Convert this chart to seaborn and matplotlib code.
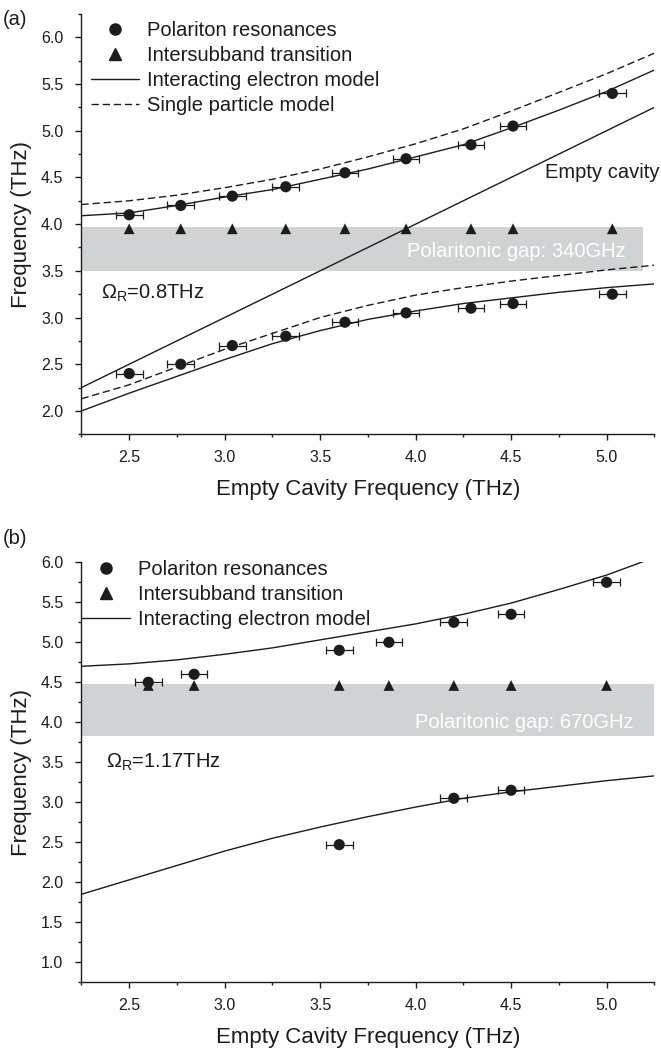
import matplotlib
matplotlib.use("Agg")
import matplotlib.pyplot as plt
import seaborn as sns
from matplotlib.lines import Line2D
from matplotlib.ticker import MultipleLocator

# ---- data (THz) ----
# panel (a)
a_cavity = [2.50, 2.77, 3.04, 3.32, 3.63, 3.95, 4.29, 4.51, 5.03]
a_upper = [4.10, 4.20, 4.30, 4.40, 4.55, 4.70, 4.85, 5.05, 5.40]
a_lower = [2.40, 2.50, 2.70, 2.80, 2.95, 3.05, 3.10, 3.15, 3.25]
a_isb = [3.95, 3.95, 3.95, 3.95, 3.95, 3.95, 3.95, 3.95, 3.95]

# panel (b)
b_cavity = [2.60, 2.84, 3.60, 3.86, 4.20, 4.50, 5.00]
b_upper = [4.50, 4.60, 4.90, 5.00, 5.25, 5.35, 5.75]
b_isb = [4.46, 4.46, 4.46, 4.46, 4.46, 4.46, 4.46]
b_low_cavity = [3.60, 4.20, 4.50]
b_lower = [2.47, 3.05, 3.15]

x_err = 0.07

# model curves
model_x = [2.25, 2.50, 2.75, 3.00, 3.25, 3.50, 3.75, 4.00, 4.25, 4.50, 4.75, 5.00, 5.25]
a_int_up = [4.09, 4.12, 4.20, 4.29, 4.37, 4.48, 4.59, 4.72, 4.85, 5.03, 5.22, 5.42, 5.65]
a_int_low = [2.00, 2.19, 2.37, 2.55, 2.72, 2.86, 2.98, 3.07, 3.15, 3.21, 3.27, 3.32, 3.36]
a_sp_up = [4.21, 4.25, 4.31, 4.39, 4.48, 4.59, 4.72, 4.86, 5.02, 5.21, 5.41, 5.61, 5.83]
a_sp_low = [2.13, 2.28, 2.47, 2.66, 2.83, 3.00, 3.13, 3.24, 3.32, 3.39, 3.45, 3.51, 3.56]
b_int_up = [4.70, 4.73, 4.78, 4.85, 4.93, 5.03, 5.13, 5.23, 5.35, 5.49, 5.66, 5.84, 6.06]
b_int_low = [1.85, 2.03, 2.21, 2.39, 2.55, 2.69, 2.82, 2.94, 3.05, 3.13, 3.20, 3.27, 3.33]
empty_cav = [2.25, 5.25]

labels = ["Polariton resonances", "Intersubband transition",
          "Interacting electron model", "Single particle model"]

ink = "#1c1c1c"
gap_col = "#d1d2d4"
dash = (5.3, 2.7)

sns.set_style("ticks")
plt.rcParams["font.family"] = ["Liberation Sans", "DejaVu Sans"]
plt.rcParams["mathtext.fontset"] = "custom"
plt.rcParams["mathtext.rm"] = "Liberation Sans"
plt.rcParams["mathtext.it"] = "Liberation Sans:italic"
plt.rcParams["text.color"] = ink

fig = plt.figure(figsize=(6.61, 10.51), dpi=100)
ax_a = fig.add_axes([0.1232, 0.5868, 0.8667, 0.3999])
ax_b = fig.add_axes([0.1232, 0.0654, 0.8667, 0.3996])


def style_axes(ax, ylim):
    ax.set_xlim(2.25, 5.25)
    ax.set_ylim(*ylim)
    ax.xaxis.set_major_locator(MultipleLocator(0.5))
    ax.xaxis.set_minor_locator(MultipleLocator(0.25))
    ax.yaxis.set_major_locator(MultipleLocator(0.5))
    ax.yaxis.set_minor_locator(MultipleLocator(0.25))
    ax.tick_params(which="major", direction="out", length=4.5, width=1,
                   color=ink, labelcolor=ink, labelsize=11.5)
    ax.tick_params(which="minor", direction="out", length=2.5, width=1, color=ink)
    ax.tick_params(axis="x", which="major", pad=6.5)
    ax.tick_params(axis="y", which="major", pad=8.5)
    sns.despine(ax=ax)
    for s in ["left", "bottom"]:
        ax.spines[s].set_color(ink)
        ax.spines[s].set_linewidth(1.0)
    ax.set_xlabel("Empty Cavity Frequency (THz)", fontsize=16, color=ink)
    ax.set_ylabel("Frequency (THz)", fontsize=16, color=ink)
    ax.xaxis.set_label_coords(0.5, -0.106)
    ax.yaxis.set_label_coords(-0.086, 0.5)


def points(ax, xs, ys):
    ax.errorbar(xs, ys, xerr=x_err, fmt="none", ecolor=ink, elinewidth=0.9,
                capsize=3, capthick=0.9, zorder=3)
    sns.scatterplot(x=xs, y=ys, ax=ax, marker="o", s=65, color=ink,
                    edgecolor="none", zorder=5)


def legend_handles(n):
    h = [Line2D([], [], marker="o", ls="none", color=ink, ms=8),
         Line2D([], [], marker="^", ls="none", color=ink, ms=8),
         Line2D([], [], color=ink, lw=1.0),
         Line2D([], [], color=ink, lw=1.0, dashes=dash)]
    return h[:n], labels[:n]


# ---------------- panel (a) ----------------
ax = ax_a
ax.fill_between([2.25, 5.19], 3.50, 3.97, color=gap_col, lw=0, zorder=0)
sns.lineplot(x=empty_cav, y=empty_cav, ax=ax, color=ink, lw=1.0, zorder=2)
sns.lineplot(x=model_x, y=a_int_up, ax=ax, color=ink, lw=1.0, zorder=2)
sns.lineplot(x=model_x, y=a_int_low, ax=ax, color=ink, lw=1.0, zorder=2)
sns.lineplot(x=model_x, y=a_sp_up, ax=ax, color=ink, lw=1.0, zorder=2).lines[-1].set_dashes(dash)
sns.lineplot(x=model_x, y=a_sp_low, ax=ax, color=ink, lw=1.0, zorder=2).lines[-1].set_dashes(dash)
points(ax, a_cavity, a_upper)
points(ax, a_cavity, a_lower)
sns.scatterplot(x=a_cavity, y=a_isb, ax=ax, marker="^", s=60, color=ink,
                edgecolor="none", zorder=4)
style_axes(ax, (1.75, 6.25))

h, l = legend_handles(4)
ax.legend(h, l, loc="upper left", bbox_to_anchor=(0.016, 0.983), frameon=False,
          fontsize=14.5, handlelength=2.4, handletextpad=0.4, labelspacing=0.3,
          borderpad=0, borderaxespad=0)

ax.text(4.68, 4.55, "Empty cavity", fontsize=14.5, va="center", ha="left",
        clip_on=False)
ax.text(5.10, 3.71, "Polaritonic gap: 340GHz", fontsize=14.5, color="white",
        va="center", ha="right")
ax.text(2.35, 3.26, r"$\Omega_{\mathrm{R}}$=0.8THz", fontsize=14.5, va="center",
        ha="left")
fig.text(0.004, 0.981, "(a)", fontsize=14.5, va="center", ha="left")

# ---------------- panel (b) ----------------
ax = ax_b
ax.fill_between([2.25, 5.25], 3.83, 4.48, color=gap_col, lw=0, zorder=0)
sns.lineplot(x=model_x, y=b_int_up, ax=ax, color=ink, lw=1.0, zorder=2)
sns.lineplot(x=model_x, y=b_int_low, ax=ax, color=ink, lw=1.0, zorder=2)
sns.scatterplot(x=b_cavity, y=b_isb, ax=ax, marker="^", s=60, color=ink,
                edgecolor="none", zorder=4)
points(ax, b_cavity, b_upper)
points(ax, b_low_cavity, b_lower)
style_axes(ax, (0.75, 6.0))

h, l = legend_handles(3)
ax.legend(h, l, loc="upper left", bbox_to_anchor=(0.0, 1.005), frameon=False,
          fontsize=14.5, handlelength=2.4, handletextpad=0.4, labelspacing=0.3,
          borderpad=0, borderaxespad=0)

ax.text(5.14, 4.0, "Polaritonic gap: 670GHz", fontsize=14.5, color="white",
        va="center", ha="right")
ax.text(2.38, 3.50, r"$\Omega_{\mathrm{R}}$=1.17THz", fontsize=14.5, va="center",
        ha="left")
fig.text(0.004, 0.488, "(b)", fontsize=14.5, va="center", ha="left")

fig.savefig("out.png", dpi=100)
